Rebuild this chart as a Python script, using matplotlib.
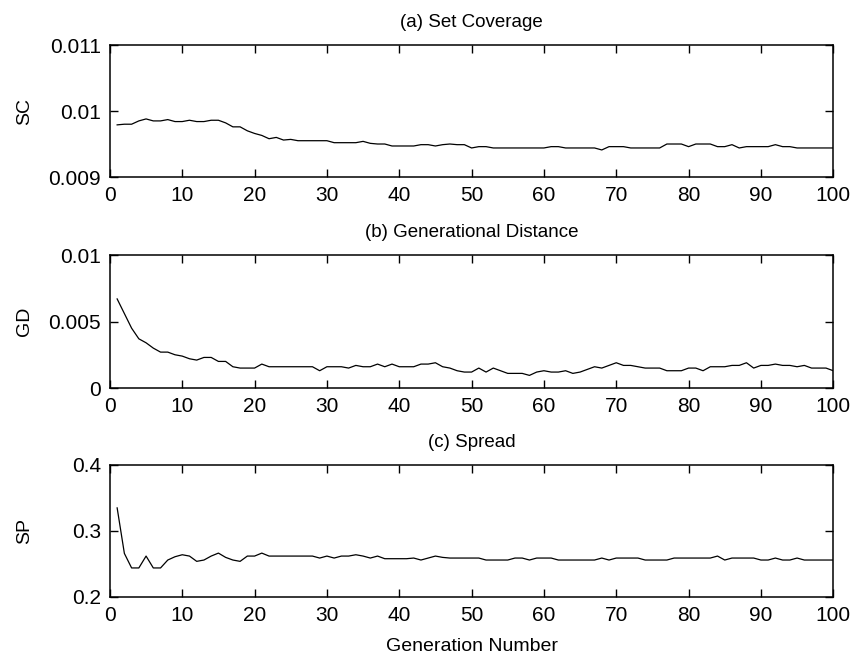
"""Three-panel convergence plot: set coverage, generational distance, spread."""

from __future__ import annotations

import matplotlib

matplotlib.use("Agg")
import matplotlib.pyplot as plt

generations = list(range(1, 101))

set_coverage = [
    0.00979, 0.00980, 0.00980, 0.00985, 0.00988, 0.00985, 0.00985, 0.00987, 0.00984, 0.00984,
    0.00986, 0.00984, 0.00984, 0.00986, 0.00986, 0.00982, 0.00976, 0.00976, 0.00970, 0.00966,
    0.00963, 0.00958, 0.00960, 0.00956, 0.00957, 0.00955, 0.00955, 0.00955, 0.00955, 0.00955,
    0.00952, 0.00952, 0.00952, 0.00952, 0.00954, 0.00951, 0.00950, 0.00950, 0.00947, 0.00947,
    0.00947, 0.00947, 0.00949, 0.00949, 0.00947, 0.00949, 0.00950, 0.00949, 0.00949, 0.00944,
    0.00946, 0.00946, 0.00944, 0.00944, 0.00944, 0.00944, 0.00944, 0.00944, 0.00944, 0.00944,
    0.00946, 0.00946, 0.00944, 0.00944, 0.00944, 0.00944, 0.00944, 0.00941, 0.00946, 0.00946,
    0.00946, 0.00944, 0.00944, 0.00944, 0.00944, 0.00944, 0.00950, 0.00950, 0.00950, 0.00946,
    0.00950, 0.00950, 0.00950, 0.00946, 0.00946, 0.00949, 0.00944, 0.00946, 0.00946, 0.00946,
    0.00946, 0.00949, 0.00946, 0.00946, 0.00944, 0.00944, 0.00944, 0.00944, 0.00944, 0.00944,
]

generational_distance = [
    0.0067, 0.0056, 0.0045, 0.0037, 0.0034, 0.0030, 0.0027, 0.0027, 0.0025, 0.0024,
    0.0022, 0.0021, 0.0023, 0.0023, 0.0020, 0.0020, 0.0016, 0.0015, 0.0015, 0.0015,
    0.0018, 0.0016, 0.0016, 0.0016, 0.0016, 0.0016, 0.0016, 0.0016, 0.0013, 0.0016,
    0.0016, 0.0016, 0.0015, 0.0017, 0.0016, 0.0016, 0.0018, 0.0016, 0.0018, 0.0016,
    0.0016, 0.0016, 0.0018, 0.0018, 0.0019, 0.0016, 0.0015, 0.0013, 0.0012, 0.0012,
    0.0015, 0.0012, 0.0015, 0.0013, 0.0011, 0.0011, 0.0011, 0.00095, 0.0012, 0.0013,
    0.0012, 0.0012, 0.0013, 0.0011, 0.0012, 0.0014, 0.0016, 0.0015, 0.0017, 0.0019,
    0.0017, 0.0017, 0.0016, 0.0015, 0.0015, 0.0015, 0.0013, 0.0013, 0.0013, 0.0015,
    0.0015, 0.0013, 0.0016, 0.0016, 0.0016, 0.0017, 0.0017, 0.0019, 0.0015, 0.0017,
    0.0017, 0.0018, 0.0017, 0.0017, 0.0016, 0.0017, 0.0015, 0.0015, 0.0015, 0.0013,
]

spread = [
    0.335, 0.266, 0.244, 0.244, 0.262, 0.244, 0.244, 0.256, 0.261, 0.264,
    0.262, 0.254, 0.256, 0.262, 0.2665, 0.260, 0.256, 0.254, 0.262, 0.262,
    0.2665, 0.262, 0.262, 0.262, 0.262, 0.262, 0.262, 0.262, 0.259, 0.262,
    0.259, 0.262, 0.262, 0.264, 0.262, 0.259, 0.262, 0.258, 0.258, 0.258,
    0.258, 0.259, 0.256, 0.259, 0.262, 0.260, 0.259, 0.259, 0.259, 0.259,
    0.259, 0.256, 0.256, 0.256, 0.256, 0.259, 0.259, 0.256, 0.259, 0.259,
    0.259, 0.256, 0.256, 0.256, 0.256, 0.256, 0.256, 0.259, 0.256, 0.259,
    0.259, 0.259, 0.259, 0.256, 0.256, 0.256, 0.256, 0.259, 0.259, 0.259,
    0.259, 0.259, 0.259, 0.262, 0.256, 0.259, 0.259, 0.259, 0.259, 0.256,
    0.256, 0.259, 0.256, 0.256, 0.259, 0.256, 0.256, 0.256, 0.256, 0.256,
]

x_ticks = [0, 10, 20, 30, 40, 50, 60, 70, 80, 90, 100]

panels = [
    ("(a) Set Coverage", "SC", set_coverage, [0.009, 0.010, 0.011], ["0.009", "0.01", "0.011"]),
    ("(b) Generational Distance", "GD", generational_distance, [0.0, 0.005, 0.01], ["0", "0.005", "0.01"]),
    ("(c) Spread", "SP", spread, [0.2, 0.3, 0.4], ["0.2", "0.3", "0.4"]),
]

# axes boxes in figure fractions: left, bottom, width, height
boxes = [
    (0.129, 0.7314, 0.849, 0.2003),
    (0.129, 0.4112, 0.849, 0.2018),
    (0.129, 0.0941, 0.849, 0.2003),
]

plt.rcParams["font.family"] = ["Liberation Sans", "DejaVu Sans"]

fig = plt.figure(figsize=(8.52, 6.59), dpi=100)

for (title, ylabel, values, yticks, ylabels), box in zip(panels, boxes):
    ax = fig.add_axes(box)
    ax.plot(generations, values, color="black", linewidth=0.9)
    ax.set_xlim(0, 100)
    ax.set_ylim(yticks[0], yticks[-1])
    ax.set_xticks(x_ticks)
    ax.set_xticklabels([str(t) for t in x_ticks])
    ax.set_yticks(yticks)
    ax.set_yticklabels(ylabels)
    ax.tick_params(
        direction="in", length=5.5, width=1.0, top=True, right=True,
        labelsize=15, pad=6.5, colors="black",
    )
    for spine in ax.spines.values():
        spine.set_linewidth(1.1)
        spine.set_color("black")
    ax.set_title(title, fontsize=13.5, pad=13)
    ax.set_ylabel(ylabel, fontsize=14)
    ax.yaxis.set_label_coords(-0.106, 0.5)

ax.set_xlabel("Generation Number", fontsize=14, labelpad=9)

fig.savefig("out.png", dpi=100)
plt.close(fig)
